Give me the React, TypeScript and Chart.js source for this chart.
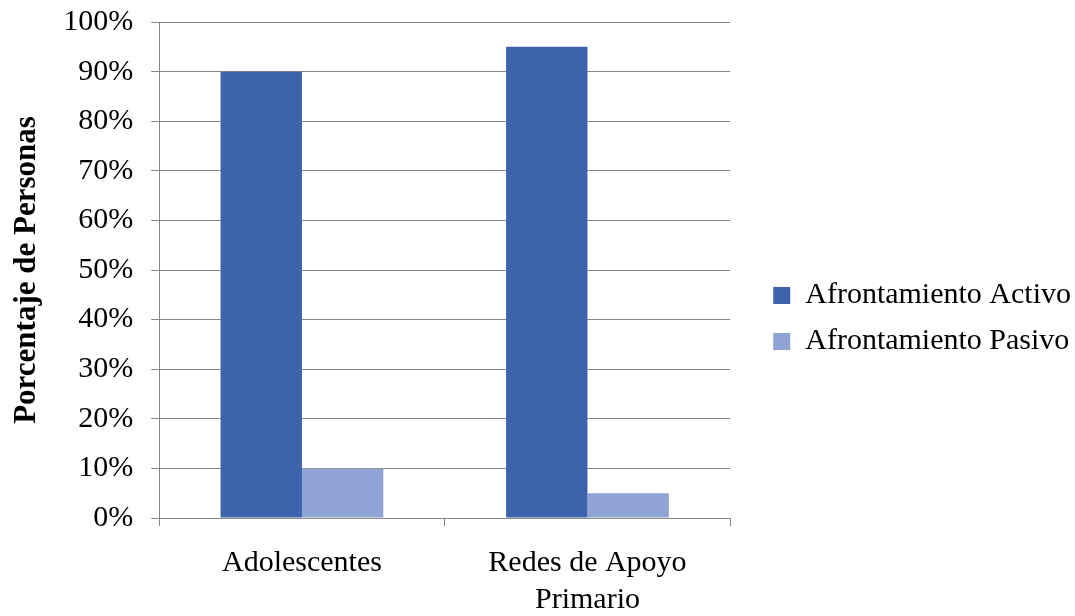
import React, { useEffect, useRef } from "react";
import { Chart, registerables } from "chart.js";

Chart.register(...registerables);

const categories: (string | string[])[] = ["Adolescentes", ["Redes de Apoyo", "Primario"]];
const seriesNames = ["Afrontamiento Activo", "Afrontamiento Pasivo"];
const activeValues = [90, 95];
const passiveValues = [10, 5];
const seriesColors = ["#3C63AC", "#8FA4D4"];
const yTitle = "Porcentaje de Personas";

const FONT = "'Liberation Serif', 'Times New Roman', serif";

export default function App() {
  const ref = useRef<HTMLCanvasElement | null>(null);
  useEffect(() => {
    document.body.style.margin = "0";
    let chart: Chart | null = null;
    let cancelled = false;
    const build = () => {
      if (cancelled || !ref.current) return;
      const ctx = ref.current.getContext("2d")!;
      chart = new Chart(ctx, {
        type: "bar",
        data: {
          labels: categories,
          datasets: [
            { label: seriesNames[0], data: activeValues, backgroundColor: seriesColors[0], borderWidth: 0, yAxisID: "y" },
            { label: seriesNames[1], data: passiveValues, backgroundColor: seriesColors[1], borderWidth: 0, yAxisID: "y" },
          ],
        },
        options: {
          animation: false,
          responsive: false,
          maintainAspectRatio: false,
          layout: { padding: { top: 0, right: -6, left: 6, bottom: -21 } },
          datasets: { bar: { categoryPercentage: 0.57, barPercentage: 1 } },
          plugins: {
            tooltip: { enabled: false },
            legend: {
              position: "right",
              align: "center",
              maxWidth: 420,
              labels: {
                color: "#000",
                font: { family: FONT, size: 30 },
                boxWidth: 17,
                boxHeight: 17,
                padding: 16,
              },
            },
          },
          scales: {
            x: {
              grid: { offset: true, drawOnChartArea: false, color: "#878787", tickLength: 8 },
              border: { color: "#878787", width: 1 },
              ticks: { color: "#000", font: { family: FONT, size: 30, lineHeight: 1.25 }, padding: 18, maxRotation: 0, autoSkip: false },
            },
            y: {
              min: 0,
              max: 100,
              grid: { color: "#878787", tickLength: 8 },
              border: { color: "#878787", width: 1 },
              ticks: {
                stepSize: 10,
                color: "#000",
                font: { family: FONT, size: 30, lineHeight: 0.27 },
                padding: 18,
                callback: (v: any) => v + "%",
              },
              title: {
                display: true,
                text: yTitle,
                color: "#000",
                font: { family: FONT, size: 31, weight: "bold" },
                padding: { top: 2, bottom: 0 },
              },
            },
            spacer: {
              type: "linear",
              position: "right",
              display: true,
              grid: { display: false },
              border: { display: false },
              ticks: { display: false },
              afterFit: (s: any) => { s.width = 27; },
            },
          },
        },
      });
    };
    const fontsReady = (document as any).fonts
      ? Promise.all([
          (document as any).fonts.load("30px 'Liberation Serif'"),
          (document as any).fonts.load("bold 31px 'Liberation Serif'"),
        ]).catch(() => null)
      : Promise.resolve(null);
    fontsReady.then(build);
    return () => {
      cancelled = true;
      if (chart) chart.destroy();
    };
  }, []);
  return (
    <div style={{ position: "absolute", left: 0, top: 0, width: 1075, height: 616, background: "#fff" }}>
      <canvas ref={ref} width={1075} height={616} />
    </div>
  );
}
